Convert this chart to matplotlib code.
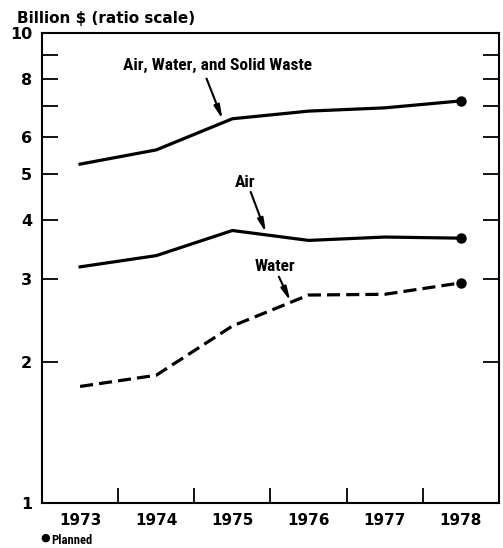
import matplotlib
matplotlib.use("Agg")
import matplotlib.pyplot as plt
from matplotlib.ticker import NullFormatter, FixedLocator

years = [1973, 1974, 1975, 1976, 1977, 1978]
total = [5.26, 5.64, 6.57, 6.82, 6.93, 7.17]
air = [3.18, 3.36, 3.80, 3.62, 3.68, 3.66]
water = [1.77, 1.87, 2.38, 2.77, 2.78, 2.94]
ytick_vals = [1, 2, 3, 4, 5, 6, 7, 8, 9, 10]
ytick_labels = ['1', '2', '3', '4', '5', '6', '', '8', '', '10']
year_labels = ['1973', '1974', '1975', '1976', '1977', '1978']

narrow = ['Liberation Sans Narrow', 'Roboto Condensed', 'DejaVu Sans']

fig = plt.figure(figsize=(5.03, 5.48), dpi=100)
ax = fig.add_axes([42/503, 1-503/548, (499-42)/503, (503-33)/548])

lw = 2.3
ax.plot(years, total, color='black', lw=lw, solid_joinstyle='round')
ax.plot(years, air, color='black', lw=lw, solid_joinstyle='round')
ax.plot(years, water, color='black', lw=lw, dashes=(4.1, 1.9))
ax.plot([years[-1]], [total[-1]], 'o', color='black', ms=6.5)
ax.plot([years[-1]], [air[-1]], 'o', color='black', ms=6.5)
ax.plot([years[-1]], [water[-1]], 'o', color='black', ms=6.5)

ax.set_yscale('log')
ax.set_ylim(1, 10)
ax.set_xlim(1972.5, 1978.5)
ax.yaxis.set_major_locator(FixedLocator(ytick_vals))
ax.yaxis.set_minor_locator(FixedLocator([]))
ax.set_yticklabels(ytick_labels)
ax.yaxis.set_minor_formatter(NullFormatter())

ax.set_xticks([y + 0.5 for y in years[:-1]])
ax.set_xticklabels([])
ax.set_xticks(years, minor=True)
ax.set_xticklabels(year_labels, minor=True)

ax.tick_params(axis='y', which='major', direction='in', length=11.5, width=1.3,
               right=True, labelright=False, pad=7, labelsize=11.5)
ax.tick_params(axis='x', which='major', direction='in', length=11, width=1.3)
ax.tick_params(axis='x', which='minor', length=0, pad=7, labelsize=11)
for lab in ax.get_yticklabels() + ax.get_xticklabels(minor=True):
    lab.set_fontweight('bold')

for s in ax.spines.values():
    s.set_linewidth(1.5)

fig.text(17/503, 1-18/548, 'Billion $ (ratio scale)', fontsize=11,
         fontweight='bold', ha='left', va='center')

def note(text, xy_text, xy_tip, tail):
    ax.annotate(text, xy=xy_tip, xytext=xy_text, textcoords='data',
                ha='center', va='center', fontsize=12.5, fontweight='bold',
                family=narrow)
    ax.annotate('', xy=xy_tip, xytext=tail,
                arrowprops=dict(arrowstyle='-|>,head_length=0.8,head_width=0.17',
                                color='black', lw=1.5,
                                mutation_scale=10, shrinkA=0, shrinkB=0))

note('Air, Water, and Solid Waste', (1974.80, 8.51), (1974.87, 6.55), (1974.66, 8.0))
note('Air', (1975.17, 4.80), (1975.44, 3.76), (1975.24, 4.59))
note('Water', (1975.56, 3.18), (1975.76, 2.69), (1975.61, 3.03))

fig.text(45/503, 1-538/548, '\u25cf', fontsize=8, ha='center', va='center')
fig.text(51/503, 1-541/548, 'Planned', fontsize=9, fontweight='bold',
         ha='left', va='center', family=narrow)

fig.savefig('out.png', dpi=100)
